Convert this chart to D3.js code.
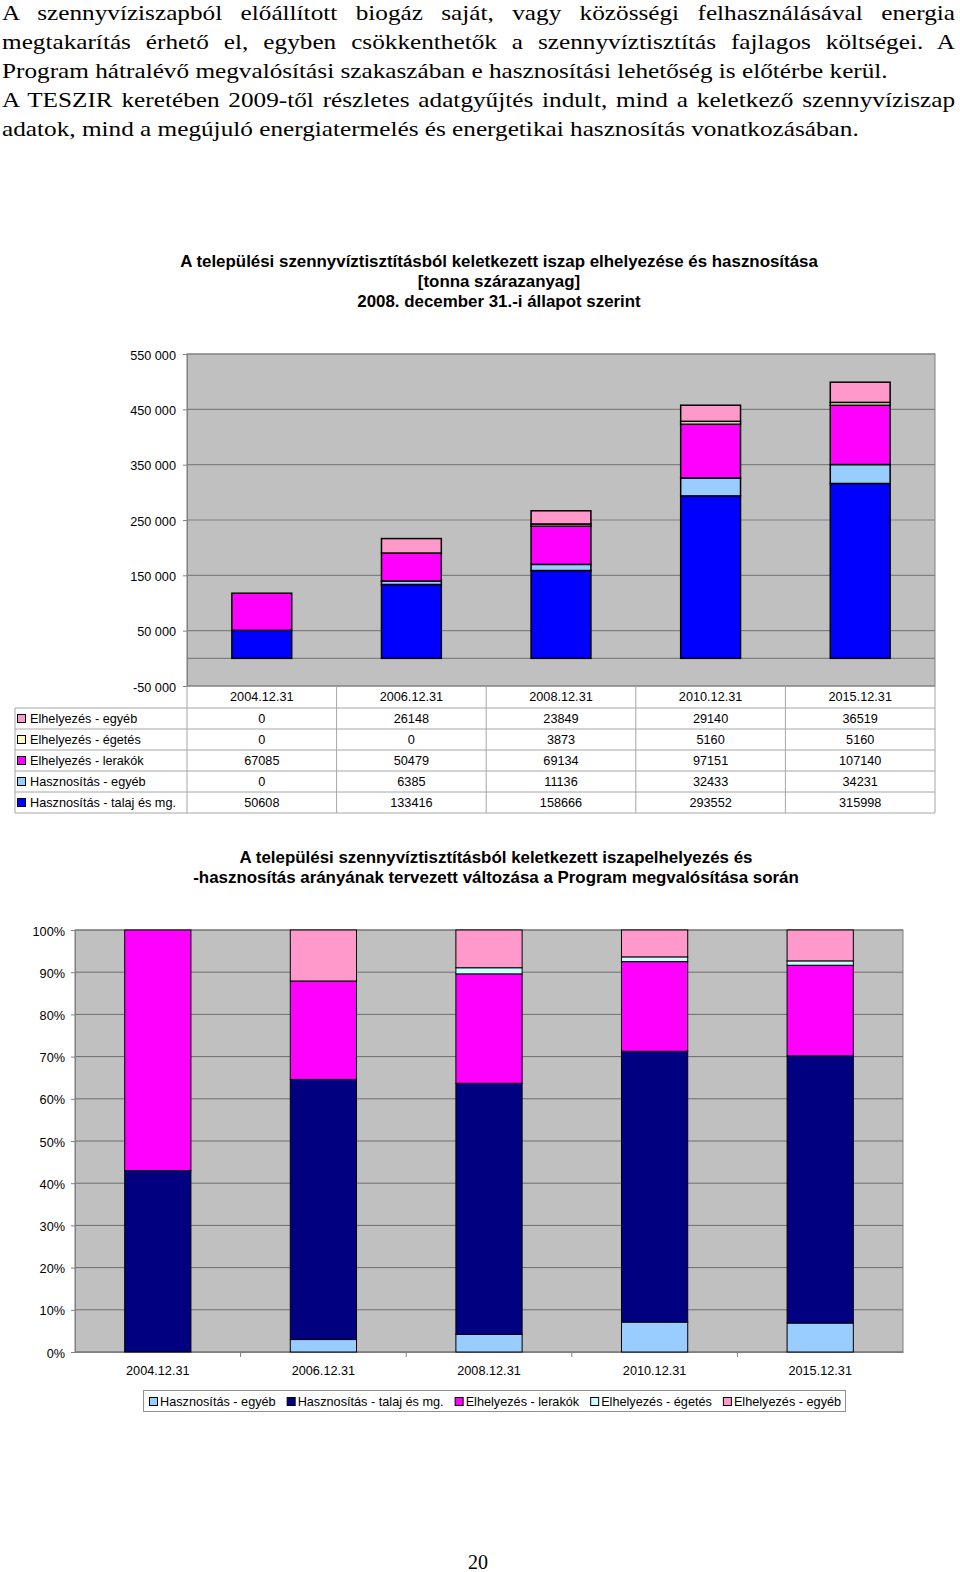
<!DOCTYPE html>
<html><head><meta charset="utf-8">
<script src="https://cdn.jsdelivr.net/npm/d3@7"></script>
<style>body{margin:0;background:#fff}svg{display:block}</style>
</head><body>
<script>
// ---------- data ----------
const categories = ["2004.12.31","2006.12.31","2008.12.31","2010.12.31","2015.12.31"];
const hasznTalaj = [50608,133416,158666,293552,315998];
const hasznEgyeb = [0,6385,11136,32433,34231];
const elhLerakok = [67085,50479,69134,97151,107140];
const elhEgetes  = [0,0,3873,5160,5160];
const elhEgyeb   = [0,26148,23849,29140,36519];
const seriesNames = {
  hasznTalaj:"Hasznosítás - talaj és mg.", hasznEgyeb:"Hasznosítás - egyéb",
  elhLerakok:"Elhelyezés - lerakók", elhEgetes:"Elhelyezés - égetés", elhEgyeb:"Elhelyezés - egyéb"};
const yTicks1 = [-50000,50000,150000,250000,350000,450000,550000];
const yTicks2 = [0,0.1,0.2,0.3,0.4,0.5,0.6,0.7,0.8,0.9,1];
const paragraph = [
 "A szennyvíziszapból előállított biogáz saját, vagy közösségi felhasználásával energia",
 "megtakarítás érhető el, egyben csökkenthetők a szennyvíztisztítás fajlagos költségei. A",
 "Program hátralévő megvalósítási szakaszában e hasznosítási lehetőség is előtérbe kerül.",
 "A TESZIR keretében 2009-től részletes adatgyűjtés indult, mind a keletkező szennyvíziszap",
 "adatok, mind a megújuló energiatermelés és energetikai hasznosítás vonatkozásában."];
const justified = [true,true,false,true,false];
const title1 = ["A települési szennyvíztisztításból keletkezett iszap elhelyezése és hasznosítása","[tonna szárazanyag]","2008. december 31.-i állapot szerint"];
const title2 = ["A települési szennyvíztisztításból keletkezett iszapelhelyezés és","-hasznosítás arányának tervezett változása a Program megvalósítása során"];

const rows = categories.map((c,i)=>({cat:c,hasznTalaj:hasznTalaj[i],hasznEgyeb:hasznEgyeb[i],elhLerakok:elhLerakok[i],elhEgetes:elhEgetes[i],elhEgyeb:elhEgyeb[i]}));

const W=960,H=1572;
const svg=d3.select("body").append("svg").attr("width",W).attr("height",H);
const sans="'Liberation Sans', Arial, sans-serif";
const fs=12.7, tfs=16.9;

// ---------- paragraph ----------
const pg=svg.append("g");
const base0=20, lh=29;
const pts=paragraph.map((t,i)=>pg.append("text").attr("x",0).attr("y",base0+i*lh)
   .attr("font-family","'Liberation Serif','Times New Roman',serif").attr("font-size",21.5).text(t));
const w5=pts[4].node().getComputedTextLength();
const w3=pts[2].node().getComputedTextLength();
const s=((860-2)/w5 + (887-2)/w3)/2;
pg.attr("transform",`translate(2,0) scale(${s},1)`);
pts.forEach((t,i)=>{
  if(justified[i]){
    const w=t.node().getComputedTextLength();
    const n=(paragraph[i].match(/ /g)||[]).length;
    t.attr("word-spacing",((955-2)/s - w)/n);
  }
});

// ---------- chart 1 ----------
const x1=d3.scaleBand().domain(categories).range([187,935]).paddingInner(0).paddingOuter(0);
const y1=d3.scaleLinear().domain([-50000,550000]).range([686,354]);
const c1=svg.append("g");
title1.forEach((t,i)=>c1.append("text").attr("x",499).attr("y",267+i*20).attr("text-anchor","middle")
  .attr("font-family",sans).attr("font-weight","bold").attr("font-size",tfs).text(t));
c1.append("rect").attr("x",187).attr("y",y1(550000)).attr("width",935-187).attr("height",y1(-50000)-y1(550000))
  .attr("fill","#c0c0c0").attr("stroke","#808080");
c1.append("g").selectAll("line").data(yTicks1.concat([0])).join("line")
  .attr("x1",187).attr("x2",935).attr("y1",d=>y1(d)).attr("y2",d=>y1(d)).attr("stroke","#808080").attr("stroke-width",1.2);
const ax1=c1.append("g").attr("transform","translate(187,0)").call(d3.axisLeft(y1).tickValues(yTicks1).tickSize(4).tickPadding(7)
  .tickFormat(d=>d3.format(",")(d).replace(/,/g," ").replace("\u2212","-")));
ax1.select(".domain").attr("stroke","#808080");
ax1.selectAll(".tick line").attr("stroke","#808080");
ax1.selectAll("text").attr("font-family",sans).attr("font-size",fs).attr("fill","#000").attr("dy","0.4em");
const keys1=["hasznTalaj","hasznEgyeb","elhLerakok","elhEgetes","elhEgyeb"];
const col1={hasznTalaj:"#0000ff",hasznEgyeb:"#99ccff",elhLerakok:"#ff00ff",elhEgetes:"#ffffcc",elhEgyeb:"#ff99cc"};
const st1=d3.stack().keys(keys1)(rows);
const bw1=x1.bandwidth()*0.4;
c1.append("g").selectAll("g").data(st1).join("g").attr("fill",d=>col1[d.key])
  .selectAll("rect").data(d=>d.filter(p=>p[1]-p[0]>0)).join("rect")
  .attr("x",d=>x1(d.data.cat)+x1.bandwidth()/2-bw1/2).attr("width",bw1)
  .attr("y",d=>y1(d[1])).attr("height",d=>y1(d[0])-y1(d[1]))
  .attr("stroke","#000").attr("stroke-width",1.5);
// table
const tRows=["elhEgyeb","elhEgetes","elhLerakok","hasznEgyeb","hasznTalaj"];
const arrs={hasznTalaj,hasznEgyeb,elhLerakok,elhEgetes,elhEgyeb};
const tTop=686, hH=22, rH=21, tLeft=15;
const tb=c1.append("g");
const lineC="#a6a6a6";
for(let r=0;r<=5;r++){
  const yy=tTop+hH+r*rH;
  tb.append("line").attr("x1",tLeft).attr("x2",935).attr("y1",yy).attr("y2",yy).attr("stroke",lineC);
}
tb.append("line").attr("x1",tLeft).attr("x2",tLeft).attr("y1",tTop+hH).attr("y2",tTop+hH+5*rH).attr("stroke",lineC);
categories.concat([null]).forEach((c,i)=>{
  const xx=c?x1(c):935;
  tb.append("line").attr("x1",xx).attr("x2",xx).attr("y1",tTop).attr("y2",tTop+hH+5*rH).attr("stroke",lineC);
});
categories.forEach(c=>tb.append("text").attr("x",x1(c)+x1.bandwidth()/2).attr("y",tTop+15).attr("text-anchor","middle")
  .attr("font-family",sans).attr("font-size",fs).text(c));
tRows.forEach((k,r)=>{
  const yy=tTop+hH+r*rH;
  tb.append("rect").attr("x",17.5).attr("y",yy+6.5).attr("width",8).attr("height",8).attr("fill",col1[k]).attr("stroke","#000").attr("stroke-width",1);
  tb.append("text").attr("x",30).attr("y",yy+15).attr("font-family",sans).attr("font-size",fs).text(seriesNames[k]);
  categories.forEach((c,i)=>tb.append("text").attr("x",x1(c)+x1.bandwidth()/2).attr("y",yy+15).attr("text-anchor","middle")
    .attr("font-family",sans).attr("font-size",fs).text(arrs[k][i]));
});

// ---------- chart 2 ----------
const x2=d3.scaleBand().domain(categories).range([75,903]);
const y2=d3.scaleLinear().domain([0,1]).range([1352,930]);
const c2=svg.append("g");
title2.forEach((t,i)=>c2.append("text").attr("x",496).attr("y",863+i*20).attr("text-anchor","middle")
  .attr("font-family",sans).attr("font-weight","bold").attr("font-size",tfs).text(t));
c2.append("rect").attr("x",75).attr("y",930).attr("width",903-75).attr("height",1352-930).attr("fill","#c0c0c0").attr("stroke","#808080");
c2.append("g").selectAll("line").data(yTicks2).join("line")
  .attr("x1",75).attr("x2",903).attr("y1",d=>y2(d)).attr("y2",d=>y2(d)).attr("stroke","#6e6e6e").attr("stroke-width",1);
const ax2=c2.append("g").attr("transform","translate(75,0)").call(d3.axisLeft(y2).tickValues(yTicks2).tickSize(4).tickPadding(6).tickFormat(d3.format(".0%")));
ax2.select(".domain").attr("stroke","#808080");
ax2.selectAll(".tick line").attr("stroke","#808080");
ax2.selectAll("text").attr("font-family",sans).attr("font-size",fs).attr("fill","#000").attr("dy","0.4em");
const bx2=c2.append("g").attr("transform","translate(0,1352)").call(d3.axisBottom(x2).tickSize(0).tickPadding(14));
bx2.select(".domain").attr("stroke","#808080");
bx2.selectAll("text").attr("font-family",sans).attr("font-size",fs).attr("fill","#000");
c2.append("g").selectAll("line").data(categories.slice(1)).join("line")
  .attr("x1",d=>x2(d)).attr("x2",d=>x2(d)).attr("y1",1352).attr("y2",1357).attr("stroke","#808080");
const keys2=["hasznEgyeb","hasznTalaj","elhLerakok","elhEgetes","elhEgyeb"];
const col2={hasznTalaj:"#000080",hasznEgyeb:"#99ccff",elhLerakok:"#ff00ff",elhEgetes:"#ccffff",elhEgyeb:"#ff99cc"};
const st2=d3.stack().keys(keys2).offset(d3.stackOffsetExpand)(rows);
const bw2=x2.bandwidth()*0.4;
c2.append("g").selectAll("g").data(st2).join("g").attr("fill",d=>col2[d.key])
  .selectAll("rect").data(d=>d.filter(p=>p[1]-p[0]>0)).join("rect")
  .attr("x",d=>x2(d.data.cat)+x2.bandwidth()/2-bw2/2).attr("width",bw2)
  .attr("y",d=>y2(d[1])).attr("height",d=>y2(d[0])-y2(d[1]))
  .attr("stroke","#000").attr("stroke-width",1);
// legend
const lg=c2.append("g");
lg.append("rect").attr("x",143.5).attr("y",1390.5).attr("width",702).attr("height",21).attr("fill","#fff").attr("stroke","#909090");
let lx=149;
keys2.forEach(k=>{
  lg.append("rect").attr("x",lx+0.5).attr("y",1397.5).attr("width",8).attr("height",8).attr("fill",col2[k]).attr("stroke","#000");
  const t=lg.append("text").attr("x",lx+11).attr("y",1406).attr("font-family",sans).attr("font-size",fs).text(seriesNames[k]);
  lx=lx+11+t.node().getComputedTextLength()+11;
});

// page number
svg.append("text").attr("x",478).attr("y",1569).attr("text-anchor","middle").attr("font-family","'Liberation Serif',serif").attr("font-size",20).text("20");
</script>
</body></html>
